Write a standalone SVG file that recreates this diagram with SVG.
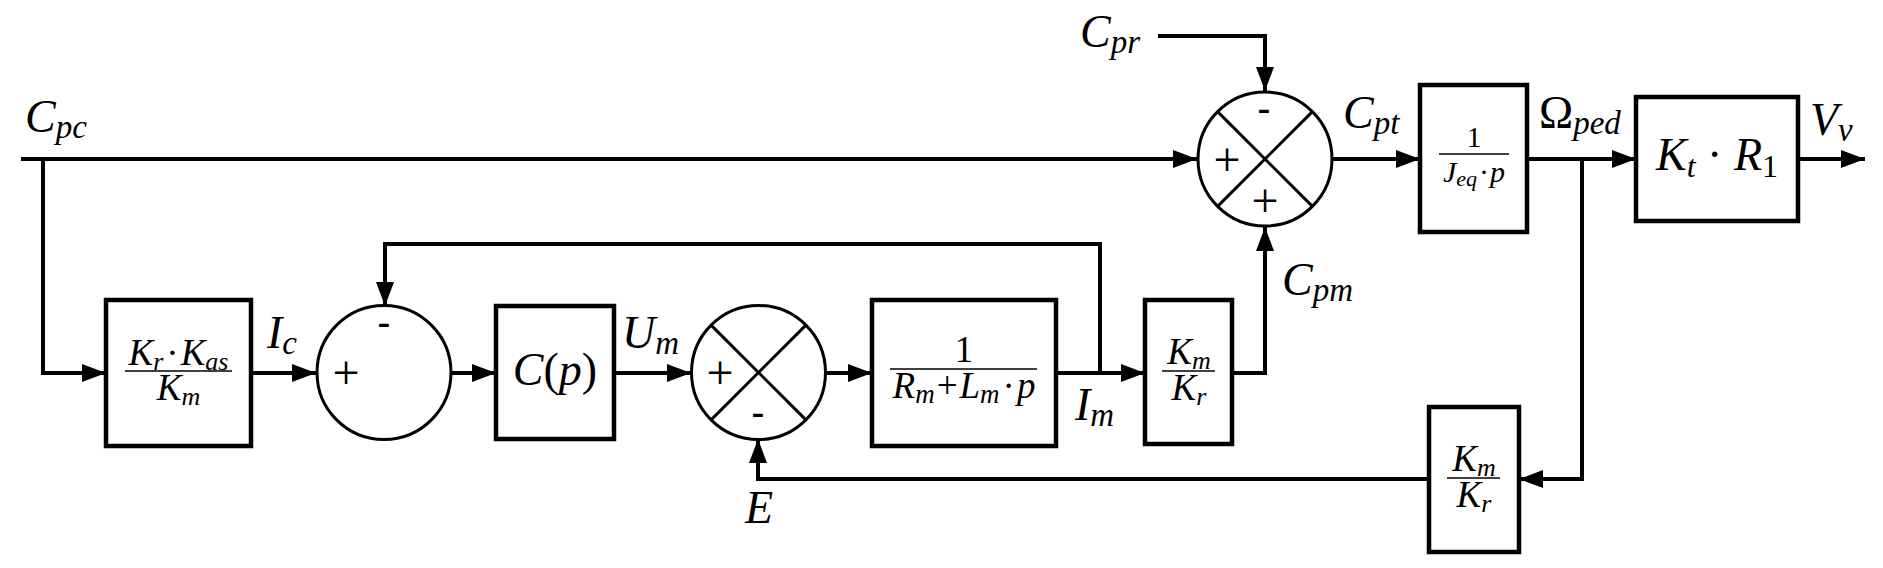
<svg xmlns="http://www.w3.org/2000/svg" width="1883" height="568" viewBox="0 0 1883 568">
<style>
.ln{fill:none;stroke:#000;stroke-width:4;}
.bx{fill:#fff;stroke:#000;stroke-width:4.5;}
.cr{fill:#fff;stroke:#000;stroke-width:3;}
.x{stroke:#000;stroke-width:3;}
.fl{stroke:#000;stroke-width:1.6;}
text{font-family:"Liberation Serif","DejaVu Serif",serif;fill:#000;}
.v{font-style:italic;font-size:46px;}
.f{font-style:italic;font-size:37px;}
.n{font-style:normal;}
.s{font-family:"Liberation Sans","DejaVu Sans",sans-serif;font-size:40px;}
.p{font-size:48px;}
</style>
<defs>
<marker id="ah" viewBox="0 0 24 18" refX="24" refY="9" markerWidth="24" markerHeight="18" markerUnits="userSpaceOnUse" orient="auto">
<path d="M0,0 L24,9 L0,18 Z" fill="#000"/>
</marker>
</defs>
<rect width="1883" height="568" fill="#fff"/>
<g id="connectors" class="ln" marker-end="url(#ah)">
<path d="M21,159 H1197"/>
<path d="M43,159 V373 H106"/>
<path d="M251,373 H316"/>
<path d="M452,373 H496"/>
<path d="M614,373 H691"/>
<path d="M826,373 H872"/>
<path d="M1056,373 H1145"/>
<path d="M1100,373 V244 H385 V306"/>
<path d="M1232,373 H1265 V227"/>
<path d="M1158,36 H1265 V91"/>
<path d="M1332,159 H1420"/>
<path d="M1527,159 H1636"/>
<path d="M1798,159 H1865"/>
<path d="M1582,159 V479 H1519"/>
<path d="M1429,479 H758 V439"/>
</g>
<g id="box1">
<rect class="bx" x="106" y="300" width="145" height="146"/>
<text class="f" x="178.5" y="365" text-anchor="middle">K<tspan font-size="26" dy="5">r</tspan><tspan class="n" dx="3" dy="-5">·</tspan><tspan dx="2">K</tspan><tspan font-size="26" dy="5">as</tspan></text>
<line class="fl" x1="125" y1="371" x2="232" y2="371"/>
<text class="f" x="178.5" y="400" text-anchor="middle">K<tspan font-size="26" dy="5">m</tspan></text>
</g>
<g id="sum1">
<circle class="cr" cx="384" cy="372.5" r="67"/>
<text class="s" x="384" y="336" text-anchor="middle">-</text>
<text class="p" x="346" y="389" text-anchor="middle">+</text>
</g>
<g id="cp">
<rect class="bx" x="496" y="306" width="118" height="133"/>
<text class="v" x="555" y="385" text-anchor="middle">C<tspan class="n">(</tspan>p<tspan class="n">)</tspan></text>
</g>
<g id="sum2">
<circle class="cr" cx="758.5" cy="372.5" r="67"/>
<line class="x" x1="711.1" y1="325.1" x2="805.9" y2="419.9"/>
<line class="x" x1="805.9" y1="325.1" x2="711.1" y2="419.9"/>
<text class="p" x="720" y="389" text-anchor="middle">+</text>
<text class="s" x="758" y="426" text-anchor="middle">-</text>
</g>
<g id="box3">
<rect class="bx" x="872" y="300" width="184" height="146"/>
<text class="f n" x="964" y="362" text-anchor="middle">1</text>
<line class="fl" x1="890" y1="369" x2="1037" y2="369"/>
<text class="f" x="964" y="398" text-anchor="middle" font-size="38">R<tspan font-size="27" dy="5">m</tspan><tspan class="n" dx="2" dy="-5">+</tspan><tspan dx="2">L</tspan><tspan font-size="27" dy="5">m</tspan><tspan class="n" dx="3" dy="-5">·</tspan><tspan dx="2">p</tspan></text>
</g>
<g id="gain1">
<rect class="bx" x="1145" y="300" width="87" height="144"/>
<text class="f" x="1189" y="364" text-anchor="middle">K<tspan font-size="26" dy="5">m</tspan></text>
<line class="fl" x1="1162" y1="371" x2="1215" y2="371"/>
<text class="f" x="1189" y="400" text-anchor="middle">K<tspan font-size="26" dy="5">r</tspan></text>
</g>
<g id="gain2">
<rect class="bx" x="1429" y="407" width="90" height="145"/>
<text class="f" x="1474" y="471" text-anchor="middle">K<tspan font-size="26" dy="5">m</tspan></text>
<line class="fl" x1="1447" y1="478" x2="1500" y2="478"/>
<text class="f" x="1474" y="507" text-anchor="middle">K<tspan font-size="26" dy="5">r</tspan></text>
</g>
<g id="sum3">
<circle class="cr" cx="1265" cy="159" r="67"/>
<line class="x" x1="1217.6" y1="111.6" x2="1312.4" y2="206.4"/>
<line class="x" x1="1312.4" y1="111.6" x2="1217.6" y2="206.4"/>
<text class="s" x="1264" y="122" text-anchor="middle">-</text>
<text class="p" x="1227" y="176" text-anchor="middle">+</text>
<text class="p" x="1265" y="217" text-anchor="middle">+</text>
</g>
<g id="inertia">
<rect class="bx" x="1420" y="85" width="107" height="147"/>
<text class="n" font-size="30" x="1474" y="147" text-anchor="middle">1</text>
<line class="fl" x1="1439" y1="154" x2="1509" y2="154"/>
<text font-style="italic" font-size="30" x="1474" y="182" text-anchor="middle">J<tspan font-size="22" dy="4">eq</tspan><tspan class="n" dx="2" dy="-4">·</tspan><tspan dx="1">p</tspan></text>
</g>
<g id="ktr1">
<rect class="bx" x="1636" y="97" width="162" height="124"/>
<text class="v" x="1717" y="170" text-anchor="middle">K<tspan font-size="32" dy="7">t</tspan><tspan class="n" dy="-7"> · </tspan>R<tspan class="n" font-size="32" dy="7">1</tspan></text>
</g>
<g id="labels" class="v">
<text x="25" y="132">C<tspan font-size="33" dy="6">pc</tspan></text>
<text x="267" y="348">I<tspan font-size="33" dy="6">c</tspan></text>
<text x="622" y="348">U<tspan font-size="33" dy="6">m</tspan></text>
<text x="1075" y="420">I<tspan font-size="33" dy="6">m</tspan></text>
<text x="759" y="523" text-anchor="middle">E</text>
<text x="1080" y="47">C<tspan font-size="33" dy="6">pr</tspan></text>
<text x="1343" y="128">C<tspan font-size="33" dy="6">pt</tspan></text>
<text x="1282" y="295">C<tspan font-size="33" dy="6">pm</tspan></text>
<text x="1539" y="128"><tspan class="n">Ω</tspan><tspan font-size="33" dy="6">ped</tspan></text>
<text x="1810" y="135">V<tspan font-size="33" dy="6">v</tspan></text>
</g>
</svg>
